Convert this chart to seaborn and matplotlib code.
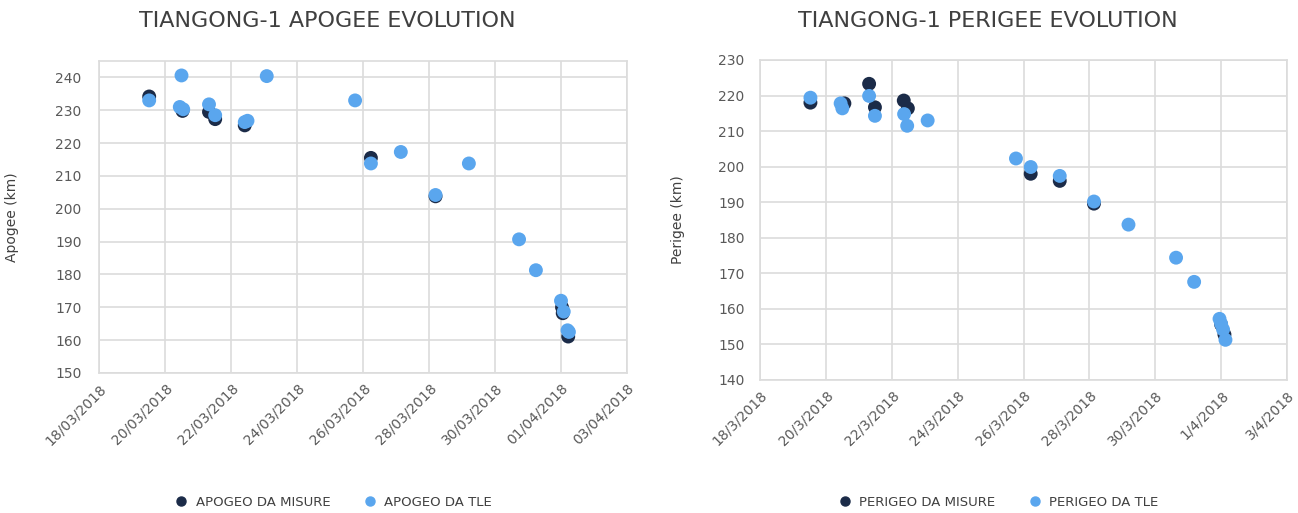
import matplotlib
matplotlib.use("Agg")
import matplotlib.pyplot as plt
import matplotlib.dates as mdates
from matplotlib.lines import Line2D
import seaborn as sns
import pandas as pd

# ---------------- data ----------------
apo_mis_dates = ["2018-03-19 12:30", "2018-03-20 12:45", "2018-03-21 08:00", "2018-03-21 12:30",
                 "2018-03-22 10:00", "2018-03-26 05:45", "2018-03-28 04:45", "2018-04-01 00:45",
                 "2018-04-01 01:15", "2018-04-01 05:15"]
apo_mis_vals = [234.2, 229.8, 229.5, 227.3, 225.4, 215.5, 203.8, 170.0, 168.2, 161.1]

apo_tle_dates = ["2018-03-19 12:30", "2018-03-20 12:00", "2018-03-20 10:45", "2018-03-20 13:15",
                 "2018-03-21 08:00", "2018-03-21 12:30", "2018-03-22 10:00", "2018-03-22 12:00",
                 "2018-03-23 02:00", "2018-03-25 18:15", "2018-03-26 05:45", "2018-03-27 03:30",
                 "2018-03-28 04:45", "2018-03-29 05:00", "2018-03-30 17:30", "2018-03-31 05:45",
                 "2018-04-01 00:00", "2018-04-01 02:00", "2018-04-01 04:45", "2018-04-01 05:45"]
apo_tle_vals = [233.0, 240.6, 231.0, 230.3, 231.8, 228.5, 226.4, 226.8, 240.4, 233.0,
                213.8, 217.3, 204.2, 213.8, 190.7, 181.3, 172.0, 168.7, 163.0, 162.5]

per_mis_dates = ["2018-03-19 12:45", "2018-03-20 13:30", "2018-03-21 07:30", "2018-03-21 11:45",
                 "2018-03-22 08:45", "2018-03-22 11:45", "2018-03-26 05:15", "2018-03-27 02:25",
                 "2018-03-28 03:20", "2018-04-01 00:00", "2018-04-01 02:25"]
per_mis_vals = [218.0, 217.8, 223.3, 216.7, 218.6, 216.4, 198.0, 196.0, 189.6, 155.6, 152.8]

per_tle_dates = ["2018-03-19 12:45", "2018-03-20 10:45", "2018-03-20 12:00", "2018-03-21 07:30",
                 "2018-03-21 11:45", "2018-03-22 09:00", "2018-03-22 11:15", "2018-03-23 02:10",
                 "2018-03-25 18:30", "2018-03-26 05:15", "2018-03-27 02:25", "2018-03-28 03:20",
                 "2018-03-29 04:30", "2018-03-30 15:10", "2018-03-31 04:20", "2018-03-31 22:50",
                 "2018-04-01 00:00", "2018-04-01 01:25", "2018-04-01 03:10"]
per_tle_vals = [219.4, 217.8, 216.4, 219.9, 214.3, 214.8, 211.5, 213.0, 202.3, 199.9,
                197.4, 190.2, 183.7, 174.4, 167.6, 157.2, 155.8, 154.2, 151.3]

apo_xticklabels = ["18/03/2018", "20/03/2018", "22/03/2018", "24/03/2018", "26/03/2018",
                   "28/03/2018", "30/03/2018", "01/04/2018", "03/04/2018"]
per_xticklabels = ["18/3/2018", "20/3/2018", "22/3/2018", "24/3/2018", "26/3/2018",
                   "28/3/2018", "30/3/2018", "1/4/2018", "3/4/2018"]
apo_yticks = [150, 160, 170, 180, 190, 200, 210, 220, 230, 240]
per_yticks = [140, 150, 160, 170, 180, 190, 200, 210, 220, 230]

apo_series = ["APOGEO DA MISURE", "APOGEO DA TLE"]
per_series = ["PERIGEO DA MISURE", "PERIGEO DA TLE"]
titles = ["TIANGONG-1 APOGEE EVOLUTION", "TIANGONG-1 PERIGEE EVOLUTION"]
ylabels = ["Apogee (km)", "Perigee (km)"]

DARK = "#1B2B48"
LIGHT = "#5AA6EE"
GRID = "#DCDCDC"
TXT = "#595959"

sns.set_style("white")
plt.rcParams['font.family'] = ['DejaVu Sans']


def make_df(d1, v1, d2, v2, names):
    a = pd.DataFrame({"date": pd.to_datetime(d1), "value": v1, "series": names[0]})
    b = pd.DataFrame({"date": pd.to_datetime(d2), "value": v2, "series": names[1]})
    return pd.concat([a, b], ignore_index=True)


fig = plt.figure(figsize=(12.98, 5.13), dpi=100)
ax1 = fig.add_axes([99 / 1298, 1 - 373 / 513, 528 / 1298, 312 / 513])
ax2 = fig.add_axes([760 / 1298, 1 - 380 / 513, 527 / 1298, 320 / 513])

configs = [
    (ax1, make_df(apo_mis_dates, apo_mis_vals, apo_tle_dates, apo_tle_vals, apo_series),
     apo_series, apo_xticklabels, apo_yticks, (150, 245), ylabels[0], 12.5, -0.152),
    (ax2, make_df(per_mis_dates, per_mis_vals, per_tle_dates, per_tle_vals, per_series),
     per_series, per_xticklabels, per_yticks, (140, 230), ylabels[1], 11, -0.142),
]

for ax, df, names, xlabels, yticks, ylim, ylab, ypad, ylx in configs:
    sns.scatterplot(data=df, x="date", y="value", hue="series",
                    palette={names[0]: DARK, names[1]: LIGHT},
                    s=100, linewidth=0, legend=False, ax=ax, zorder=3)
    tick_dates = [pd.to_datetime(t, format="%d/%m/%Y") for t in xlabels]
    ax.set_xlim(tick_dates[0], tick_dates[-1])
    ax.set_xticks(tick_dates)
    ax.set_xticklabels(xlabels, rotation=45, ha="right", rotation_mode="anchor",
                       fontsize=10, color=TXT)
    ax.xaxis.set_minor_locator(mdates.DayLocator())
    ax.set_ylim(*ylim)
    ax.set_yticks(yticks)
    ax.set_yticklabels([str(v) for v in yticks], fontsize=10, color=TXT)
    ax.grid(True, which="major", color=GRID, lw=1.2, zorder=0)
    ax.set_axisbelow(True)
    for sp in ax.spines.values():
        sp.set_color(GRID)
        sp.set_linewidth(1.2)
    ax.tick_params(axis="y", length=0, pad=ypad)
    ax.tick_params(axis="x", which="both", length=4, direction="in", color="#BFBFBF", pad=6)
    ax.set_xlabel("")
    ax.set_ylabel(ylab, fontsize=10, color="#404040")
    ax.yaxis.set_label_coords(ylx, 0.5)

fig.text(327 / 1298, 1 - 21 / 513, titles[0], ha="center", va="center",
         fontsize=16, color="#404040")
fig.text(988 / 1298, 1 - 21 / 513, titles[1], ha="center", va="center",
         fontsize=16, color="#404040")

for names, cx in [(apo_series, 330), (per_series, 995)]:
    handles = [Line2D([], [], marker="o", ls="", color=DARK, markersize=6.5),
               Line2D([], [], marker="o", ls="", color=LIGHT, markersize=6.5)]
    fig.legend(handles, names, loc="center", bbox_to_anchor=(cx / 1298, 1 - 502 / 513),
               ncol=2, frameon=False, fontsize=9.5, handletextpad=0.1,
               columnspacing=2.0, labelcolor="#404040")

fig.savefig("out.png", dpi=100)
